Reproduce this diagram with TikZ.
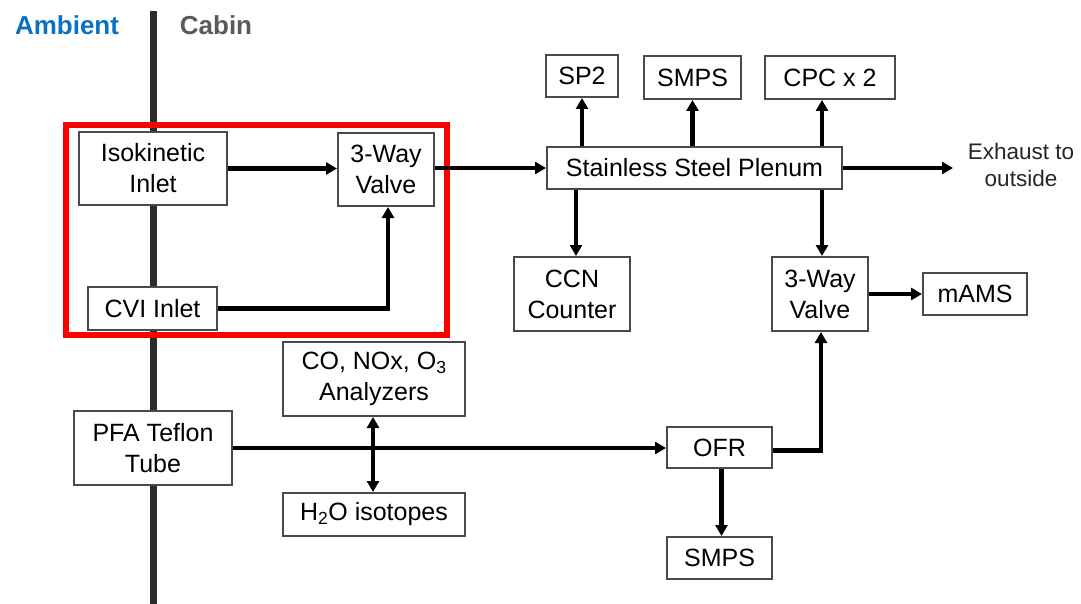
\documentclass[tikz,border=0pt]{standalone}
\usepackage{fontspec}
\setmainfont{Liberation Sans}
\usetikzlibrary{arrows.meta}
\definecolor{boxline}{HTML}{4A4A4A}
\definecolor{wall}{HTML}{2B2B2B}
\definecolor{ambblue}{HTML}{0A72C2}
\definecolor{cabgray}{HTML}{5A5A5A}
\begin{document}
\begin{tikzpicture}[x=1pt,y=-1pt,
  box/.style={draw=boxline,line width=2pt,fill=white,inner sep=0pt,align=center,
    font=\fontsize{25}{31}\selectfont},
  flow/.style={line width=4.5pt,-{Triangle[length=11pt,width=12pt]}},
  flowb/.style={line width=4.5pt,{Triangle[length=11pt,width=12pt]}-{Triangle[length=11pt,width=12pt]}}]
\useasboundingbox (0,0) rectangle (1081,604);
% wall
\coordinate (wtop) at (153,11);
\coordinate (wbot) at (153,604);
\draw[wall,line width=7pt] (wtop) -- (wbot);
\node[font=\fontsize{26}{26}\selectfont\bfseries,text=ambblue] (amb) at (67,25) {Ambient};
\node[font=\fontsize{26}{26}\selectfont\bfseries,text=cabgray] (cab) at (216,25) {Cabin};
% boxes
\node[box,minimum width=148pt,minimum height=73pt] (iso) at (153,168.5) {Isokinetic\\Inlet};
\node[box,minimum width=96pt,minimum height=73pt] (valveL) at (386,169.5) {3-Way\\Valve};
\node[box,minimum width=129pt,minimum height=43pt] (cvi) at (152.5,308.5) {CVI Inlet};
\node[box,minimum width=72pt,minimum height=42pt] (sp2) at (582,76) {SP2};
\node[box,minimum width=97pt,minimum height=43pt] (smpsA) at (692.5,77.5) {SMPS};
\node[box,minimum width=130pt,minimum height=43pt] (cpc) at (830,77.5) {CPC x 2};
\node[box,minimum width=295pt,minimum height=42pt] (plen) at (694.5,168) {Stainless Steel Plenum};
\node[box,minimum width=116pt,minimum height=74pt] (ccn) at (572,294) {CCN\\Counter};
\node[box,minimum width=96pt,minimum height=74pt] (valveR) at (820,294) {3-Way\\Valve};
\node[box,minimum width=104pt,minimum height=42pt] (mams) at (975,294) {mAMS};
\node[box,minimum width=182pt,minimum height=74pt] (co) at (374,379) {CO, NOx, O\textsubscript{3}\\Analyzers};
\node[box,minimum width=182pt,minimum height=43pt] (hto) at (374,514.5) {H\textsubscript{2}O isotopes};
\node[box,minimum width=158pt,minimum height=74pt] (pfa) at (153,448) {PFA Teflon\\Tube};
\node[box,minimum width=105pt,minimum height=41pt] (ofr) at (719.5,447.5) {OFR};
\node[box,minimum width=105pt,minimum height=42pt] (smpsB) at (719.5,558) {SMPS};
\node[align=center,font=\fontsize{22.5}{27}\selectfont,text=black!85] (exh) at (1021,165) {Exhaust to\\outside};
\coordinate (exhend) at (953,168);
% red frame
\coordinate (rA) at (66,125);
\coordinate (rB) at (447,335);
\draw[red,line width=6pt] (rA) rectangle (rB);
% connectors
\draw[flow] (iso.east) -- (iso.east -| valveL.west);
\draw[flow] (valveL.east |- plen.west) -- (plen.west);
\draw[flow] (cvi.east) -| ([xshift=2pt]valveL.south);
\draw[flow] (sp2.south |- plen.north) -- (sp2.south);
\draw[flow] (smpsA.south |- plen.north) -- (smpsA.south);
\draw[flow] ([xshift=2pt]valveR.north |- plen.north) -- ([xshift=2pt]valveR.north |- cpc.south);
\draw[flow] ([xshift=4pt]ccn.north |- plen.south) -- ([xshift=4pt]ccn.north);
\draw[flow] ([xshift=2pt]valveR.north |- plen.south) -- ([xshift=2pt]valveR.north);
\draw[flow] (plen.east) -- (exhend);
\draw[flow] (valveR.east) -- (mams.west);
\draw[flow] (pfa.east) -- (pfa.east -| ofr.west);
\draw[flow] ([yshift=-3pt]ofr.east) -| ([xshift=1pt]valveR.south);
\draw[flow] ([xshift=2pt]ofr.south) -- ([xshift=2pt]smpsB.north);
\draw[flowb] ([xshift=-1pt]co.south) -- ([xshift=-1pt]hto.north);
\end{tikzpicture}
\end{document}
